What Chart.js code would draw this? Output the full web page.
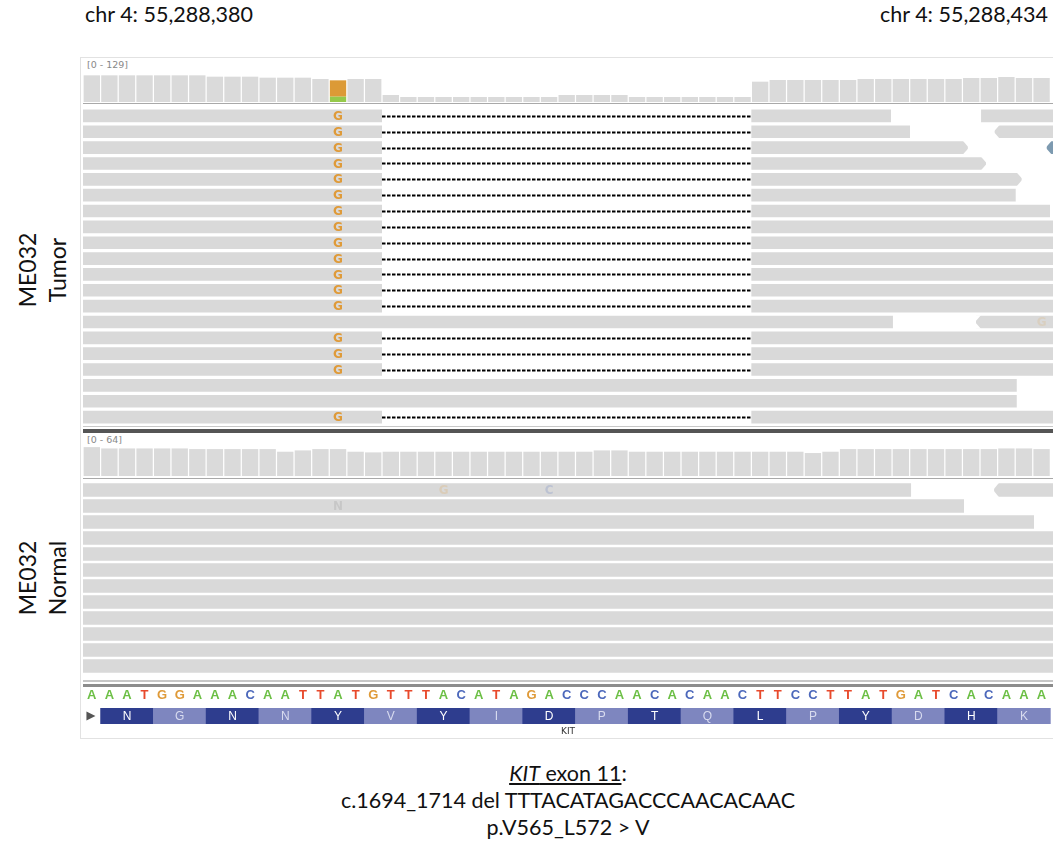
<!DOCTYPE html>
<html>
<head>
<meta charset="utf-8">
<script src="https://cdn.jsdelivr.net/npm/chart.js@4.4.1/dist/chart.umd.min.js"></script>
<style>
  body { margin: 0; background: #fff; width: 1053px; height: 846px; position: relative; overflow: hidden; font-family: Lato, "Open Sans", sans-serif; color: #111; }
  .abs { position: absolute; }
  canvas { position: absolute; }
  .chr { top: 1px; font-size: 21.5px; white-space: nowrap; }
  .range { font-family: "DejaVu Sans", sans-serif; font-size: 9.5px; color: #888; }
  .line { position: absolute; left: 83px; width: 970px; }
  .side { width: 200px; text-align: center; font-size: 23px; line-height: 30px; transform: translate(-50%, -50%) rotate(-90deg); }
  .caption { left: 218px; width: 700px; top: 760px; text-align: center; font-size: 21.5px; line-height: 27px; }
</style>
</head>
<body>
<div class="abs chr" style="left:85px">chr 4: 55,288,380</div>
<div class="abs chr" style="right:5px">chr 4: 55,288,434</div>

<div class="abs" style="left:80px;top:57px;width:980px;height:680px;border:1px solid #e2e2e2;"></div>

<div class="abs side" style="left:42px;top:270px">ME032<br>Tumor</div>
<div class="abs side" style="left:42px;top:578px">ME032<br>Normal</div>

<div class="abs range" style="left:87px;top:59px">[0 - 129]</div>
<canvas id="covTumor" width="970" height="43" style="left:83px;top:59px"></canvas>
<div class="line" style="top:102.5px;height:1.5px;background:#a9a9a9"></div>
<canvas id="readsTumor" width="970" height="317" style="left:83px;top:108px"></canvas>
<div class="line" style="top:426px;height:1px;background:#c8c8c8"></div>
<div class="line" style="top:429px;height:3.5px;background:#555"></div>

<div class="abs range" style="left:87px;top:434px">[0 - 64]</div>
<canvas id="covNormal" width="970" height="42" style="left:83px;top:434px"></canvas>
<div class="line" style="top:477.5px;height:1.5px;background:#a9a9a9"></div>
<canvas id="readsNormal" width="970" height="192" style="left:83px;top:482px"></canvas>
<div class="line" style="top:680px;height:2px;background:#c6c6c6"></div>
<div class="line" style="top:684px;height:2.5px;background:#8c8c8c"></div>

<canvas id="gene" width="970" height="52" style="left:83px;top:687.5px"></canvas>

<div class="abs caption">
  <span style="text-decoration:underline"><i>KIT</i> exon 11</span>:<br>
  c.1694_1714 del TTTACATAGACCCAACACAAC<br>
  p.V565_L572 &gt; V
</div>

<script>
// view is 55 bases, chr4:55,288,380-55,288,434
const VIEW_END = 55.15;
const seqBases = 'AAATGGAAACAATTATGTTTACATAGACCCAACACAACTTCCTTATGATCACAAA'.split('');

const tumorCoverage = [80, 80, 80, 80, 80, 80, 80, 76, 76, 76, 73, 73, 73, 69, 65, 69, 69, 21, 15, 15,
  15, 15, 15, 15, 15, 15, 15, 21, 21, 21, 21, 15, 15, 15, 15, 15, 15, 15, 61, 66,
  66, 66, 66, 66, 69, 69, 69, 69, 69, 69, 72, 72, 75, 72, 72];
const normalCoverage = [44, 42, 42, 42, 42, 42, 41, 41, 41, 41, 41, 37, 39, 41, 41, 37, 36, 37, 37, 37,
  37, 37, 37, 37, 37, 37, 37, 37, 37, 39, 39, 37, 37, 37, 37, 37, 37, 37, 37, 37,
  37, 35, 37, 41, 41, 41, 41, 41, 41, 41, 41, 41, 42, 42, 41];
const tumorMax = 129;
const normalMax = 64;
const snvIndex = 14;
const tumorSnvG = 49;
const tumorSnvA = 16;

// reads: [row, start, end, strand, colour]
const tumorReads = [
  [0, -2, 45.94, '-'], [0, 51.06, 57, '+'],
  [1, -2, 47.02, '-'], [1, 51.83, 57, '-'],
  [2, -2, 50.31, '+'], [2, 54.79, 57, '-', '#7d9ab0'],
  [3, -2, 51.34, '+'],
  [4, -2, 53.37, '+'],
  [5, -2, 53.03, '-'],
  [6, -2, 54.98, '-'],
  [7, -2, 57, '+'], [8, -2, 57, '+'], [9, -2, 57, '+'], [10, -2, 57, '+'], [11, -2, 57, '+'], [12, -2, 57, '+'],
  [13, -2, 46.05, '-'], [13, 50.77, 57, '-'],
  [14, -2, 57, '+'], [15, -2, 57, '+'], [16, -2, 57, '+'],
  [17, -2, 53.09, '-'],
  [18, -2, 53.09, '-'],
  [19, -2, 57, '+']
];
const tumorRows = 20;
const tumorDelRows = [0, 1, 2, 3, 4, 5, 6, 7, 8, 9, 10, 11, 12, 14, 15, 16, 19];
const delStart = 17;
const delEnd = 38;
// mismatches: [row, base index, letter, opacity]
const tumorMismatches = tumorDelRows.map(r => [r, snvIndex, 'G', 1]).concat([[13, 54, 'G', 0.15]]);

const normalReads = [
  [0, -2, 47.08, '-'], [0, 51.8, 57, '-'],
  [1, -2, 50.09, '-'],
  [2, -2, 54.07, '-'],
  [3, -2, 57, '+'], [4, -2, 57, '+'], [5, -2, 57, '+'], [6, -2, 57, '+'], [7, -2, 57, '+'],
  [8, -2, 57, '+'], [9, -2, 57, '+'], [10, -2, 57, '+'], [11, -2, 57, '+']
];
const normalRows = 12;
const normalMismatches = [[0, 20, 'G', 0.2], [0, 26, 'C', 0.2], [1, 14, 'N', 0.15]];

const aaLetters = ['N', 'G', 'N', 'N', 'Y', 'V', 'Y', 'I', 'D', 'P', 'T', 'Q', 'L', 'P', 'Y', 'D', 'H', 'K'];
const aaStart = 1;
const geneName = 'KIT';

const READ_GREY = '#d9d9d9';
const COV_GREY = '#dadada';
const baseColors = { A: '#6cbf45', T: '#e84a2c', G: '#df9a38', C: '#4c68bb', N: '#666' };
const AA_DARK = '#2e3d8e';
const AA_LIGHT = '#7e86bf';

const noPlugins = { legend: { display: false }, tooltip: { enabled: false } };

function coverageChart(id, values, max, alt) {
  const datasets = [{
    data: values.map((v, i) => ({ x: i + 0.5, y: alt && i === snvIndex ? null : v })),
    backgroundColor: COV_GREY
  }];
  if (alt) {
    datasets.push({ data: [{ x: snvIndex + 0.5, y: alt.A }], backgroundColor: '#95c94a' });
    datasets.push({ data: [{ x: snvIndex + 0.5, y: alt.G }], backgroundColor: '#dc9a36' });
  }
  new Chart(document.getElementById(id), {
    type: 'bar',
    data: { datasets },
    options: {
      responsive: false, animation: false,
      plugins: noPlugins,
      datasets: { bar: { categoryPercentage: 1, barPercentage: 0.93 } },
      scales: {
        x: { type: 'linear', min: 0, max: VIEW_END, display: false, stacked: true, offset: false },
        y: { min: 0, max: max, display: false, stacked: true }
      }
    }
  });
}

function buildBars(reads, delRows) {
  const bars = [];
  reads.forEach(([row, s, e, strand, color]) => {
    let pieces = [[s, e]];
    if (delRows.includes(row) && s < delStart && e > delEnd) pieces = [[s, delStart], [delEnd, e]];
    pieces.forEach(([a, b], k) => bars.push({
      y: 'r' + row, x: [a, b], color: color || READ_GREY,
      tipLeft: strand === '-' && k === 0 && a > 0,
      tipRight: strand === '+' && k === pieces.length - 1 && b < VIEW_END
    }));
  });
  return bars;
}

const readDecor = {
  id: 'readDecor',
  afterDatasetsDraw(chart, args, opts) {
    const ctx = chart.ctx;
    const xs = chart.scales.x, ys = chart.scales.y;
    const meta = chart.getDatasetMeta(0);
    const raws = chart.data.datasets[0].data;
    ctx.save();
    // arrow tips: cut the corners of the read end
    ctx.fillStyle = '#fff';
    meta.data.forEach((bar, i) => {
      const raw = raws[i];
      const p = bar.getProps(['x', 'y', 'base', 'height'], true);
      const top = p.y - p.height / 2 - 0.5, bot = p.y + p.height / 2 + 0.5;
      const a = 5;
      if (raw.tipRight) {
        ctx.beginPath(); ctx.moveTo(p.x - a, top); ctx.lineTo(p.x + 1, top); ctx.lineTo(p.x + 1, p.y); ctx.closePath(); ctx.fill();
        ctx.beginPath(); ctx.moveTo(p.x - a, bot); ctx.lineTo(p.x + 1, bot); ctx.lineTo(p.x + 1, p.y); ctx.closePath(); ctx.fill();
      }
      if (raw.tipLeft) {
        ctx.beginPath(); ctx.moveTo(p.base + a, top); ctx.lineTo(p.base - 1, top); ctx.lineTo(p.base - 1, p.y); ctx.closePath(); ctx.fill();
        ctx.beginPath(); ctx.moveTo(p.base + a, bot); ctx.lineTo(p.base - 1, bot); ctx.lineTo(p.base - 1, p.y); ctx.closePath(); ctx.fill();
      }
    });
    // deletions
    ctx.strokeStyle = '#000';
    ctx.lineWidth = 2;
    ctx.setLineDash([3.5, 1.5]);
    opts.delRows.forEach(r => {
      const y = Math.round(ys.getPixelForValue(ys.getLabels().indexOf('r' + r))) + 0.5;
      ctx.beginPath();
      ctx.moveTo(xs.getPixelForValue(delStart), y);
      ctx.lineTo(xs.getPixelForValue(delEnd), y);
      ctx.stroke();
    });
    ctx.setLineDash([]);
    // mismatched bases
    ctx.font = 'bold 12px "DejaVu Sans", sans-serif';
    ctx.textAlign = 'center';
    ctx.textBaseline = 'middle';
    opts.mismatches.forEach(([r, pos, letter, alpha]) => {
      ctx.globalAlpha = alpha;
      ctx.fillStyle = baseColors[letter];
      ctx.fillText(letter, xs.getPixelForValue(pos + 0.5), ys.getPixelForValue(ys.getLabels().indexOf('r' + r)) + 1);
    });
    ctx.restore();
  }
};

function readsChart(id, reads, rows, delRows, mismatches, pct) {
  const labels = Array.from({ length: rows }, (_, i) => 'r' + i);
  new Chart(document.getElementById(id), {
    type: 'bar',
    data: {
      labels,
      datasets: [{
        data: buildBars(reads, delRows),
        backgroundColor: c => (c.raw ? c.raw.color : READ_GREY),
        categoryPercentage: 1, barPercentage: pct, borderSkipped: false
      }]
    },
    options: {
      indexAxis: 'y', responsive: false, animation: false,
      plugins: Object.assign({ readDecor: { delRows, mismatches } }, noPlugins),
      scales: {
        x: { type: 'linear', min: 0, max: VIEW_END, display: false },
        y: { type: 'category', labels, display: false }
      }
    },
    plugins: [readDecor]
  });
}

const geneDecor = {
  id: 'geneDecor',
  afterDatasetsDraw(chart) {
    const ctx = chart.ctx, xs = chart.scales.x, area = chart.chartArea;
    const midY = (area.top + area.bottom) / 2;
    ctx.save();
    ctx.textAlign = 'center';
    ctx.textBaseline = 'middle';
    // reference sequence
    ctx.font = 'bold 13px "Liberation Sans", Arial, sans-serif';
    seqBases.forEach((b, i) => {
      ctx.fillStyle = baseColors[b];
      ctx.fillText(b, xs.getPixelForValue(i + 0.5), area.top - 12.5);
    });
    // amino acids
    ctx.font = '12px "Liberation Sans", Arial, sans-serif';
    aaLetters.forEach((aa, i) => {
      ctx.fillStyle = i % 2 ? '#d8dbef' : '#ffffff';
      ctx.fillText(aa, xs.getPixelForValue(aaStart + 3 * i + 1.5), midY + 0.5);
    });
    // strand arrow
    const ax = xs.getPixelForValue(0.45);
    ctx.fillStyle = '#555';
    ctx.beginPath();
    ctx.moveTo(ax - 4.5, midY - 4.5); ctx.lineTo(ax + 4.5, midY); ctx.lineTo(ax - 4.5, midY + 4.5);
    ctx.closePath(); ctx.fill();
    // gene name
    ctx.font = '9px "DejaVu Sans", sans-serif';
    ctx.fillStyle = '#333';
    ctx.fillText(geneName, (area.left + area.right) / 2, area.bottom + 8);
    ctx.restore();
  }
};

coverageChart('covTumor', tumorCoverage, tumorMax, { G: tumorSnvG, A: tumorSnvA });
coverageChart('covNormal', normalCoverage, normalMax, null);
readsChart('readsTumor', tumorReads, tumorRows, tumorDelRows, tumorMismatches, 0.8);
readsChart('readsNormal', normalReads, normalRows, [], normalMismatches, 0.83);

new Chart(document.getElementById('gene'), {
  type: 'bar',
  data: {
    labels: ['aa'],
    datasets: [{
      data: aaLetters.map((aa, i) => ({ y: 'aa', x: [aaStart + 3 * i, aaStart + 3 * i + 3] })),
      backgroundColor: aaLetters.map((aa, i) => (i % 2 ? AA_LIGHT : AA_DARK)),
      categoryPercentage: 1, barPercentage: 1, borderSkipped: false
    }]
  },
  options: {
    indexAxis: 'y', responsive: false, animation: false,
    layout: { padding: { top: 20, bottom: 16 } },
    plugins: noPlugins,
    scales: {
      x: { type: 'linear', min: 0, max: VIEW_END, display: false },
      y: { type: 'category', display: false }
    }
  },
  plugins: [geneDecor]
});
</script>
</body>
</html>
